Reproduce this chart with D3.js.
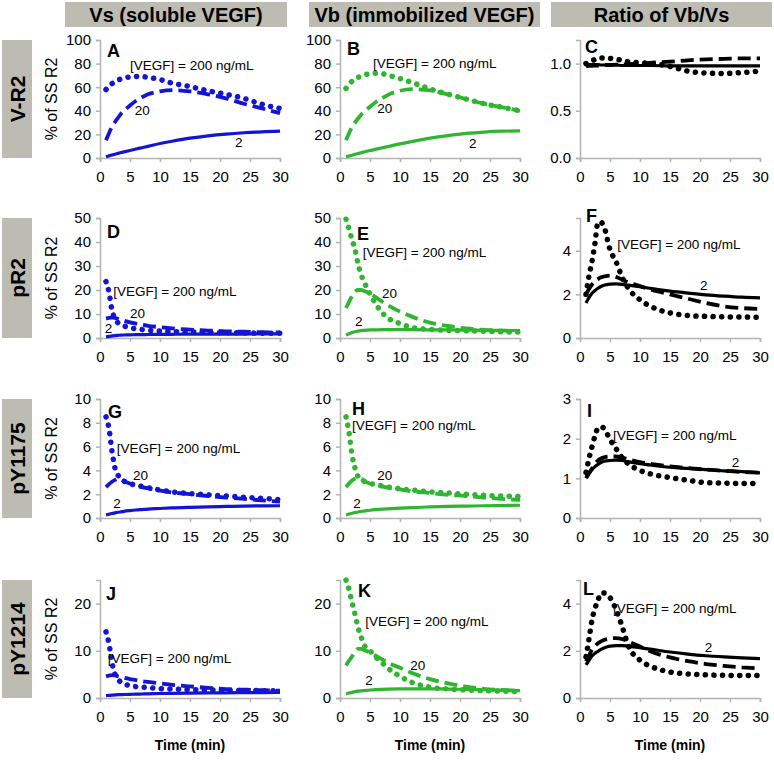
<!DOCTYPE html>
<html lang="en">
<head>
<meta charset="UTF-8">
<script src="https://d3js.org/d3.v7.min.js"></script>
<style>
  body { margin: 0; background: #fff; }
  svg { font-family: "Liberation Sans", Arial, sans-serif; }
  .tick-label { font-size: 15px; fill: #000; }
  .axis-line { stroke: #b3b3b3; stroke-width: 1.5; fill: none; }
  .note { font-size: 13.5px; fill: #000; }
  .letter { font-size: 18px; font-weight: bold; }
</style>
<title>VEGF receptor time courses</title>
</head>
<body>
<script>
// ---- data ----
var minutes = [1, 1.5, 2, 2.5, 3, 3.5, 4, 5, 6, 7, 8, 10, 12, 15, 18, 21, 24, 27, 30];
var xTicks = [0, 5, 10, 15, 20, 25, 30];
var colHeaders = ["Vs (soluble VEGF)", "Vb (immobilized VEGF)", "Ratio of Vb/Vs"];
var rowLabels = ["V-R2", "pR2", "pY1175", "pY1214"];
var panelLetters = ["A", "B", "C", "D", "E", "F", "G", "H", "I", "J", "K", "L"];
var yMax = [100, 100, 1.25, 50, 50, 5.5, 10, 10, 3, 25, 25, 5];
var yTicks = [
  [0, 20, 40, 60, 80, 100], [0, 20, 40, 60, 80, 100], [0, 0.5, 1],
  [0, 10, 20, 30, 40, 50], [0, 10, 20, 30, 40, 50], [0, 2, 4],
  [0, 2, 4, 6, 8, 10], [0, 2, 4, 6, 8, 10], [0, 1, 2, 3],
  [0, 10, 20], [0, 10, 20], [0, 2, 4]
];

// V-R2
var vsVR2_200 = [58, 61, 63, 64.5, 66, 67, 67.8, 68.7, 69, 69, 68.3, 66.5, 63.5, 60.5, 57, 54, 50.5, 45.5, 42];
var vsVR2_20 = [15, 21, 26.5, 30.5, 34, 37.5, 40, 44.5, 48.5, 51.5, 54, 56.5, 57.5, 56.5, 54, 50.5, 46, 42, 38];
var vsVR2_2 = [1, 1.8, 2.5, 3.2, 3.9, 4.6, 5.2, 6.4, 7.6, 8.7, 9.8, 12.3, 14.2, 16.8, 18.8, 20.3, 21.4, 22.2, 22.7];
var vbVR2_200 = [59, 62.5, 65, 66.8, 68.3, 69.4, 70.3, 71.5, 71.8, 71.5, 70.2, 67.3, 64, 58.5, 54, 50, 46, 43, 40];
var vbVR2_20 = [15, 21, 26, 30, 33.5, 36.5, 39, 43.5, 47.5, 50.5, 53.5, 57, 58.3, 57.3, 53.8, 50, 46, 43, 40];
var vbVR2_2 = [1, 1.7, 2.4, 3.1, 3.8, 4.4, 5.1, 6.3, 7.5, 8.6, 9.7, 12, 14, 16.8, 19, 20.8, 22, 22.7, 23];
var ratioVR2_200 = [1.0, 1.02, 1.03, 1.045, 1.055, 1.06, 1.06, 1.055, 1.045, 1.035, 1.02, 1.01, 1.0, 0.97, 0.92, 0.9, 0.895, 0.905, 0.92];
var ratioVR2_20 = [0.97, 0.975, 0.975, 0.98, 0.98, 0.98, 0.985, 0.985, 0.99, 0.99, 0.995, 1.0, 1.01, 1.02, 1.035, 1.045, 1.05, 1.055, 1.055];
var ratioVR2_2 = [0.99, 0.99, 0.99, 0.99, 0.99, 0.985, 0.985, 0.985, 0.985, 0.98, 0.98, 0.98, 0.98, 0.975, 0.975, 0.975, 0.975, 0.975, 0.975];

// pR2
var vsPR2_200 = [23.5, 19, 11.5, 8, 6.3, 5.5, 5, 4.3, 3.8, 3.5, 3.2, 2.9, 2.7, 2.5, 2.3, 2.2, 2.1, 2, 2];
var vsPR2_20 = [8.2, 8.4, 8.5, 8.4, 8.0, 7.6, 7.2, 6.5, 6.0, 5.5, 5.1, 4.5, 4.0, 3.5, 3.1, 2.8, 2.6, 2.4, 2.3];
var vsPR2_2 = [0.5, 0.7, 0.85, 1.0, 1.1, 1.2, 1.25, 1.3, 1.4, 1.4, 1.45, 1.5, 1.55, 1.6, 1.6, 1.65, 1.65, 1.7, 1.7];
var vbPR2_200 = [49.5, 45.4, 41, 37, 31, 26.5, 23.5, 18.3, 14, 10.6, 8.3, 6, 4.4, 3.6, 3.2, 3.0, 2.8, 2.6, 2.5];
var vbPR2_20 = [12.5, 15, 17.5, 19.3, 20, 20, 19.6, 18.6, 16.9, 15.2, 13.6, 11, 8.9, 6.4, 5.0, 4.0, 3.4, 3.1, 2.8];
var vbPR2_2 = [1.2, 1.8, 2.3, 2.6, 2.9, 3.1, 3.2, 3.35, 3.4, 3.45, 3.45, 3.45, 3.45, 3.4, 3.35, 3.3, 3.2, 3.15, 3.1];
var ratioPR2_200 = [2.0, 2.85, 3.5, 4.35, 5.3, 5.3, 5.1, 4.05, 3.5, 2.8, 2.3, 1.75, 1.42, 1.15, 1.03, 0.99, 0.97, 0.96, 0.95];
var ratioPR2_20 = [2.0, 2.25, 2.45, 2.6, 2.7, 2.78, 2.82, 2.86, 2.8, 2.68, 2.56, 2.38, 2.2, 2.0, 1.8, 1.6, 1.45, 1.37, 1.33];
var ratioPR2_2 = [1.6, 1.85, 2.05, 2.18, 2.28, 2.36, 2.42, 2.47, 2.48, 2.46, 2.42, 2.35, 2.26, 2.15, 2.06, 1.98, 1.92, 1.87, 1.84];

// pY1175
var vsY1175_200 = [8.5, 7.5, 5.6, 4.2, 3.6, 3.3, 3.1, 2.9, 2.75, 2.65, 2.55, 2.35, 2.2, 2.05, 1.95, 1.85, 1.75, 1.65, 1.55];
var vsY1175_20 = [2.6, 2.85, 3.05, 3.2, 3.3, 3.25, 3.1, 2.9, 2.75, 2.6, 2.5, 2.3, 2.15, 2.0, 1.85, 1.72, 1.6, 1.48, 1.38];
var vsY1175_2 = [0.25, 0.32, 0.38, 0.43, 0.48, 0.52, 0.56, 0.62, 0.67, 0.71, 0.75, 0.8, 0.85, 0.9, 0.94, 0.97, 1.0, 1.02, 1.03];
var vbY1175_200 = [8.5, 7.2, 5.3, 4.2, 3.5, 3.3, 3.1, 2.9, 2.8, 2.7, 2.6, 2.45, 2.35, 2.2, 2.1, 2.0, 1.9, 1.85, 1.8];
var vbY1175_20 = [2.6, 2.9, 3.15, 3.3, 3.35, 3.3, 3.1, 2.9, 2.75, 2.65, 2.55, 2.4, 2.25, 2.1, 1.95, 1.85, 1.72, 1.6, 1.52];
var vbY1175_2 = [0.25, 0.33, 0.4, 0.46, 0.5, 0.55, 0.58, 0.65, 0.7, 0.74, 0.77, 0.83, 0.88, 0.93, 0.97, 1.0, 1.03, 1.05, 1.07];
var ratioY1175_200 = [1.15, 1.5, 1.8, 2.07, 2.27, 2.3, 2.26, 1.98, 1.75, 1.52, 1.37, 1.2, 1.1, 1.02, 0.95, 0.89, 0.88, 0.87, 0.87];
var ratioY1175_20 = [1.0, 1.12, 1.25, 1.37, 1.45, 1.5, 1.53, 1.55, 1.55, 1.52, 1.48, 1.41, 1.36, 1.3, 1.26, 1.22, 1.19, 1.16, 1.14];
var ratioY1175_2 = [1.05, 1.14, 1.22, 1.3, 1.35, 1.4, 1.43, 1.45, 1.46, 1.45, 1.42, 1.37, 1.33, 1.28, 1.25, 1.22, 1.19, 1.17, 1.14];

// pY1214
var vsY1214_200 = [14, 11.5, 7.5, 5, 4, 3.3, 3.0, 2.6, 2.4, 2.3, 2.2, 2.0, 1.9, 1.8, 1.7, 1.65, 1.6, 1.55, 1.5];
var vsY1214_20 = [4.6, 4.75, 4.85, 4.8, 4.6, 4.45, 4.3, 4.0, 3.8, 3.55, 3.4, 3.1, 2.8, 2.45, 2.15, 1.9, 1.75, 1.65, 1.55];
var vsY1214_2 = [0.5, 0.55, 0.6, 0.65, 0.7, 0.72, 0.74, 0.78, 0.82, 0.85, 0.88, 0.95, 1.0, 1.05, 1.08, 1.1, 1.13, 1.16, 1.2];
var vbY1214_200 = [25, 23, 20.3, 17.8, 15, 13, 11.3, 10, 8.6, 7.5, 6.3, 4.6, 3.3, 2.3, 1.9, 1.7, 1.55, 1.45, 1.35];
var vbY1214_20 = [6.9, 7.9, 8.8, 9.8, 10.4, 10.4, 10.2, 9.6, 8.9, 8.2, 7.5, 6.4, 5.3, 4.0, 3.1, 2.4, 1.95, 1.7, 1.5];
var vbY1214_2 = [0.85, 1.05, 1.2, 1.35, 1.45, 1.52, 1.58, 1.7, 1.78, 1.83, 1.87, 1.92, 1.95, 1.95, 1.9, 1.82, 1.75, 1.65, 1.55];
var ratioY1214_200 = [1.75, 2.5, 3.3, 3.8, 4.15, 4.45, 4.45, 4.25, 3.75, 3.05, 2.25, 1.6, 1.32, 1.1, 1.02, 0.98, 0.96, 0.95, 0.95];
var ratioY1214_20 = [1.55, 1.8, 2.05, 2.2, 2.32, 2.4, 2.46, 2.52, 2.54, 2.5, 2.4, 2.18, 1.95, 1.72, 1.56, 1.44, 1.36, 1.3, 1.25];
var ratioY1214_2 = [1.4, 1.6, 1.78, 1.9, 1.98, 2.06, 2.12, 2.2, 2.22, 2.22, 2.2, 2.13, 2.06, 1.95, 1.86, 1.79, 1.74, 1.7, 1.67];

// panel -> [200, 20, 2] series, row by row
var panelSeries = [
  [vsVR2_200, vsVR2_20, vsVR2_2], [vbVR2_200, vbVR2_20, vbVR2_2], [ratioVR2_200, ratioVR2_20, ratioVR2_2],
  [vsPR2_200, vsPR2_20, vsPR2_2], [vbPR2_200, vbPR2_20, vbPR2_2], [ratioPR2_200, ratioPR2_20, ratioPR2_2],
  [vsY1175_200, vsY1175_20, vsY1175_2], [vbY1175_200, vbY1175_20, vbY1175_2], [ratioY1175_200, ratioY1175_20, ratioY1175_2],
  [vsY1214_200, vsY1214_20, vsY1214_2], [vbY1214_200, vbY1214_20, vbY1214_2], [ratioY1214_200, ratioY1214_20, ratioY1214_2]
];

// ---- layout ----
var W = 774, H = 760;
var colX = [100, 340, 580], plotW = 180;
var rowY = [[40, 158], [218, 338], [399, 518], [580, 698]];
var colColors = ["#1414d4", "#2fb52f", "#000000"];
var headerBoxes = [[65, 287], [309, 540], [551, 772]];

// series styles: 200 dotted, 20 dashed, 2 solid
var styles = [
  { width: 5.5, dash: "0.1 8.5", cap: "round" },
  { width: 3.8, dash: "13 6", cap: "butt" },
  { width: 3.2, dash: null, cap: "butt" }
];

// in-plot annotations: [panel, text, minute, value]
var notes = [
  [0, "[VEGF] = 200 ng/mL", 5, 74.6], [0, "20", 5.8, 36.4], [0, "2", 22.5, 9.3],
  [1, "[VEGF] = 200 ng/mL", 5.5, 76], [1, "20", 6.2, 38], [1, "2", 21.5, 8.5],
  [3, "[VEGF] = 200 ng/mL", 2.2, 17.5], [3, "20", 5, 8.3], [3, "2", 0.8, 2.1],
  [4, "[VEGF] = 200 ng/mL", 3.8, 33.7], [4, "20", 7, 16.7], [4, "2", 2.5, 5],
  [5, "[VEGF] = 200 ng/mL", 6.2, 4.07], [5, "2", 20, 2.22],
  [6, "[VEGF] = 200 ng/mL", 2.8, 5.5], [6, "20", 5.5, 3.2], [6, "2", 2.2, 0.84],
  [7, "[VEGF] = 200 ng/mL", 2, 7.4], [7, "20", 6.2, 3.2], [7, "2", 2.2, 0.84],
  [8, "[VEGF] = 200 ng/mL", 5.5, 1.96], [8, "2", 25.3, 1.28],
  [9, "[VEGF] = 200 ng/mL", 1.3, 7.4],
  [10, "[VEGF] = 200 ng/mL", 4.2, 15.2], [10, "20", 11.7, 5.9], [10, "2", 4.2, 2.7],
  [11, "[VEGF] = 200 ng/mL", 5.5, 3.62], [11, "2", 20.8, 1.94]
];
// letter offsets from plot top-left (px)
var letterPos = [[7, 17], [7, 15], [5, 13], [7, 20], [17, 22], [6, 4], [8, 19], [12, 16], [7, 18], [6, 20], [18, 17], [3, 15]];

var svg = d3.select("body").append("svg")
  .attr("width", W)
  .attr("height", H);

// column headers
headerBoxes.forEach(function (b, i) {
  svg.append("rect")
    .attr("x", b[0]).attr("y", 2)
    .attr("width", b[1] - b[0]).attr("height", 25)
    .attr("fill", "#bdbcb2");
  svg.append("text")
    .attr("x", (b[0] + b[1]) / 2).attr("y", 21.5)
    .attr("text-anchor", "middle")
    .style("font-size", "20px").style("font-weight", "bold")
    .text(colHeaders[i]);
});

// row labels
rowLabels.forEach(function (lab, r) {
  var y0 = rowY[r][0], y1 = rowY[r][1];
  svg.append("rect")
    .attr("x", 2).attr("y", y0)
    .attr("width", 30).attr("height", y1 - y0)
    .attr("fill", "#bdbcb2");
  svg.append("text")
    .attr("transform", "translate(25," + ((y0 + y1) / 2) + ") rotate(-90)")
    .attr("text-anchor", "middle")
    .style("font-size", "21px").style("font-weight", "bold")
    .text(lab);
  svg.append("text")
    .attr("transform", "translate(57," + ((y0 + y1) / 2) + ") rotate(-90)")
    .attr("text-anchor", "middle")
    .style("font-size", "16px")
    .text("% of SS R2");
});

var line = d3.line().curve(d3.curveMonotoneX);

panelSeries.forEach(function (series, p) {
  var r = Math.floor(p / 3), c = p % 3;
  var x = d3.scaleLinear().domain([0, 30]).range([colX[c], colX[c] + plotW]);
  var y = d3.scaleLinear().domain([0, yMax[p]]).range([rowY[r][1], rowY[r][0]]);
  var g = svg.append("g");

  // axes
  var xAxis = g.append("g").attr("transform", "translate(0," + rowY[r][1] + ")")
    .call(d3.axisBottom(x).tickValues(xTicks).tickSize(4).tickPadding(9));
  var yAxis = g.append("g").attr("transform", "translate(" + colX[c] + ",0)")
    .call(d3.axisLeft(y).tickValues(yTicks[p]).tickSize(4).tickPadding(5)
      .tickFormat(c === 2 && r === 0 ? d3.format(".1f") : d3.format("d")));
  [xAxis, yAxis].forEach(function (a) {
    a.select(".domain").attr("class", "axis-line");
    a.selectAll(".tick line").attr("stroke", "#b3b3b3").attr("stroke-width", 1.5);
    a.selectAll(".tick text").attr("class", "tick-label").attr("fill", "#000")
      .style("font-family", "'Liberation Sans', Arial, sans-serif");
  });

  // series: draw solid first, dotted last
  [2, 1, 0].forEach(function (k) {
    var st = styles[k];
    var pts = minutes.map(function (t, i) { return [x(t), y(series[k][i])]; });
    g.append("path")
      .attr("d", line(pts))
      .attr("fill", "none")
      .attr("stroke", colColors[c])
      .attr("stroke-width", st.width)
      .attr("stroke-linecap", st.cap)
      .attr("stroke-dasharray", st.dash);
  });

  g.append("text")
    .attr("class", "letter")
    .attr("x", colX[c] + letterPos[p][0])
    .attr("y", rowY[r][0] + letterPos[p][1])
    .text(panelLetters[p]);

  notes.filter(function (n) { return n[0] === p; }).forEach(function (n) {
    g.append("text").attr("class", "note")
      .attr("x", x(n[2])).attr("y", y(n[3]))
      .text(n[1]);
  });

  if (r === 3) {
    g.append("text")
      .attr("x", colX[c] + plotW / 2).attr("y", 750)
      .attr("text-anchor", "middle")
      .style("font-size", "14px").style("font-weight", "bold")
      .text("Time (min)");
  }
});
</script>
</body>
</html>
